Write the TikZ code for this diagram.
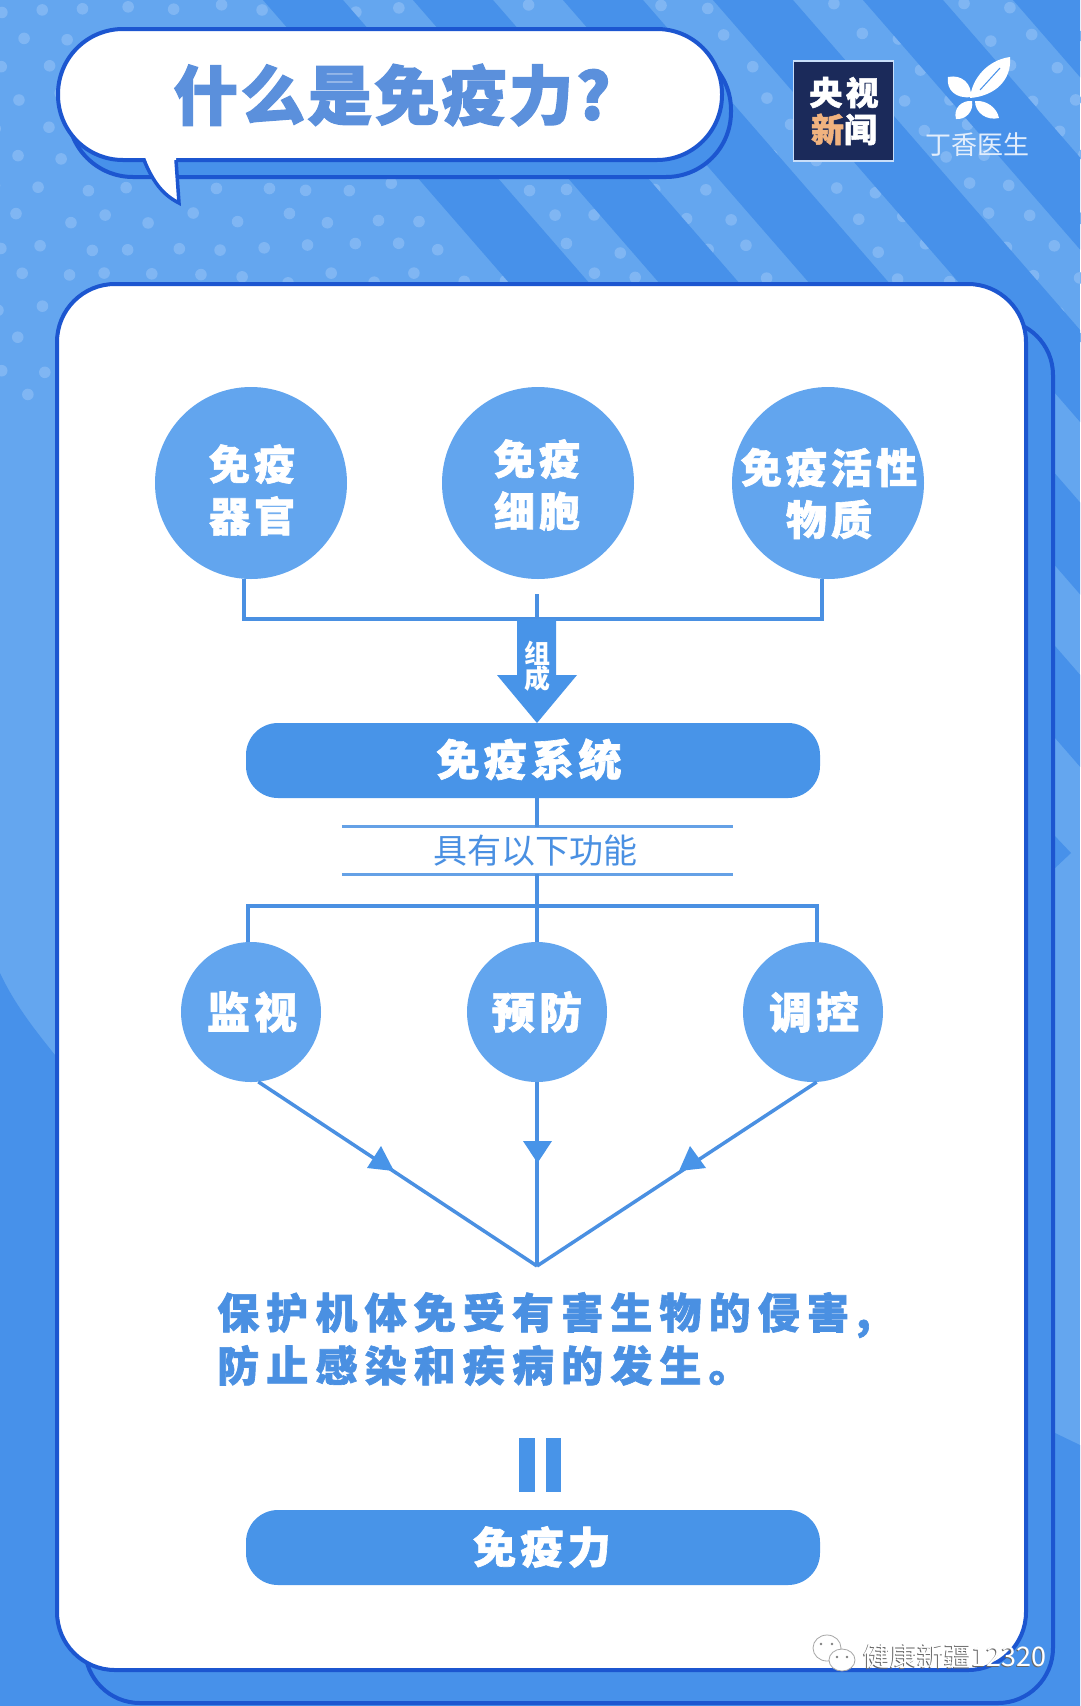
\documentclass[tikz,border=0pt]{standalone}
\usepackage{fontspec}
\usetikzlibrary{calc}
\setmainfont{Noto Sans CJK SC}
\newfontfamily\blackfont[LetterSpace=10,FakeBold=1.5]{Noto Sans CJK SC Black}
\newfontfamily\titlefont[LetterSpace=4,FakeBold=2]{Noto Sans CJK SC Black}
\definecolor{bglight}{HTML}{64A6EF}
\definecolor{bgdark}{HTML}{4791EA}
\definecolor{bgdot}{HTML}{80B6F3}
\definecolor{edgeblue}{HTML}{1C56D0}
\definecolor{pillblue}{HTML}{4894E8}
\definecolor{linkblue}{HTML}{4A90E2}
\definecolor{dotblue}{HTML}{62A5EE}
\definecolor{titleblue}{HTML}{5B90DC}
\definecolor{navybox}{HTML}{1B2A5A}
\definecolor{newsorange}{HTML}{F0B27F}

\begin{document}
\begin{tikzpicture}[x=1pt,y=-1pt]
\useasboundingbox (0,0) rectangle (1080,1706);

\tikzstyle{edge}=[draw=edgeblue,line width=4pt]
\tikzstyle{link}=[draw=linkblue,line width=4pt]
\tikzstyle{thinlink}=[draw=linkblue,line width=3.5pt]
\tikzstyle{bigdot}=[circle,fill=dotblue,inner sep=0pt,minimum size=192pt]
\tikzstyle{smalldot}=[circle,fill=dotblue,inner sep=0pt,minimum size=140pt]
\tikzstyle{pill}=[rectangle,rounded corners=32pt,fill=pillblue,inner sep=0pt,minimum width=574pt,minimum height=75pt]
\tikzstyle{whitetext}=[white,align=center,inner sep=0pt,font=\blackfont\fontsize{41}{52}\selectfont]
\tikzstyle{widetext}=[white,align=center,inner sep=0pt,font=\blackfont\fontsize{43}{52}\selectfont]

   %draw background
    \fill[bglight] (0,0) rectangle (1080,1706);
    \pgfmathsetseed{11}
    \foreach \iy in {0,...,14}
      \foreach \ix in {0,...,25} {
        \pgfmathsetmacro{\dotx}{\ix*44+mod(\iy,2)*22+rnd*12-6}
        \pgfmathsetmacro{\doty}{\iy*30+8+rnd*10-5}
        \pgfmathtruncatemacro{\keep}{\doty<(415-0.07*\dotx)?1:0}
        \ifnum\keep=1
        \fill[bgdot] (\dotx,\doty) circle (5.8pt);
        \fi
      }
    \begin{scope}
    \clip (0,0) rectangle (1080,1706);
    \foreach \s in {263,413,563,713,863,1013}
      \fill[bgdark] (\s,0) -- (\s+80,0) -- (\s+80+696,800) -- (\s+696,800) -- cycle;
    \end{scope}
    \fill[bglight] (900,780) rectangle (1080,1000);
    \fill[bgdark] (1054,835) -- (1071,853) -- (1054,869) -- cycle;
    \fill[bgdark] (0,973) .. controls (15,1005) and (35,1030) .. (55,1055) -- (1055,1433) -- (1080,1445) -- (1080,1706) -- (0,1706) -- cycle;

   %draw title bubble
    \draw[edge,fill=bgdark,rounded corners=65pt] (68,45) rectangle (731,177);
    \draw[edge,fill=white,rounded corners=65pt] (58,29) rectangle (722,160);
    \fill[white] (145,157) .. controls (153,182) and (163,195) .. (179,203) -- (176,157) -- cycle;
    \draw[edge,line width=3.5pt] (144,160) .. controls (153,182) and (163,195) .. (179,203) -- (176,160);
    \node (title) at (392,95) {\titlefont\color{titleblue}\fontsize{64.5}{66}\selectfont 什么是免疫力?};

   %draw logos
    \node (newsbox) [rectangle,fill=navybox,draw=white!70!bgdark,line width=1.5pt,minimum width=100pt,minimum height=100pt] at (843.5,111) {};
    \node (newstext) [white,align=center,inner sep=0pt,font=\blackfont\fontsize{33}{37}\selectfont] at (844,111) {央视\\{\color{newsorange}新}闻};
    \fill[white] (970,98) .. controls (972,78) and (988,60) .. (1010,57) .. controls (1012,80) and (995,96) .. (970,98) -- cycle;
    \draw[bgdark,line width=1pt] (980,90) -- (1000,68);
    \fill[white] (971,97) .. controls (956,99) and (946,90) .. (948,77) .. controls (962,74) and (972,84) .. (971,97) -- cycle;
    \fill[white] (972,101) .. controls (974,112) and (965,120) .. (956,119) .. controls (953,108) and (962,100) .. (972,101) -- cycle;
    \fill[white] (975,101) .. controls (987,100) and (997,108) .. (999,118) .. controls (987,121) and (975,113) .. (975,101) -- cycle;
    \node (brand) [white!85!bgdark,inner sep=0pt,font=\fontsize{26}{26}\selectfont] at (977,145) {丁香医生};

   %draw cards
    \draw[edge,fill=bgdark,rounded corners=55pt] (85,320) rectangle (1053,1703);
    \draw[edge,fill=white,rounded corners=58pt] (57,284) rectangle (1026,1670);

   %draw parts
    \node (organ) [bigdot] at (251,483) {};
    \node (cell) [bigdot] at (538,483) {};
    \node (substance) [bigdot] at (828,483) {};
    \node (organtext) [whitetext] at (252,490) {免疫\\器官};
    \node (celltext) [whitetext] at (537,485) {免疫\\细胞};
    \node (substancetext) [whitetext] at (829,493.5) {免疫活性\\物质};

    \coordinate (busleft) at (244,619);
    \coordinate (busright) at (822,619);
    \coordinate (busmid) at (537,619);
    \coordinate (stub) at (537,594);
    \draw[link] (organ.south -| busleft) -- (busleft) -- (busright) -- (substance.south -| busright);
    \draw[link] (stub) -- (busmid);

   %draw big arrow
    \fill[pillblue] (517,619) -- (556,619) -- (556,675) -- (577,675) -- (537,723) -- (497,675) -- (517,675) -- cycle;
    \node (compose) [white,align=center,inner sep=0pt,font=\fontsize{26}{25}\selectfont\bfseries] at (537,666) {组\\成};

    \node (system) [pill] at (533,760.5) {};
    \node (systemtext) [widetext] at (529,759.5) {免疫系统};

   %draw function label
    \node (funclabel) [minimum width=391pt,minimum height=47pt,inner sep=0pt,linkblue,font=\fontsize{34}{34}\selectfont] at (537.5,850.5) {\hspace*{-4pt}具有以下功能};
    \draw[draw=linkblue!85!white,line width=3pt] (funclabel.north west) -- (funclabel.north east);
    \draw[draw=linkblue!85!white,line width=3pt] (funclabel.south west) -- (funclabel.south east);

    \node (monitor) [smalldot] at (251,1012) {};
    \node (prevent) [smalldot] at (537,1012) {};
    \node (regulate) [smalldot] at (813,1012) {};
    \node (monitortext) [widetext] at (252,1012) {监视};
    \node (preventtext) [widetext] at (537,1012) {预防};
    \node (regulatetext) [widetext] at (814,1012) {调控};

    \coordinate (fanleft) at (248,906);
    \coordinate (fanright) at (817,906);
    \draw[link] (system.south -| busmid) -- (funclabel.north -| busmid);
    \draw[link] (funclabel.south -| busmid) -- (prevent.north -| busmid);
    \draw[link] (monitor.north -| fanleft) -- (fanleft) -- (fanright) -- (regulate.north -| fanright);

   %draw fan in
    \coordinate (apex) at (537,1266);
    \draw[thinlink] (monitor.-84) -- (apex);
    \draw[thinlink] (prevent.south) -- (apex);
    \draw[thinlink] (regulate.-87) -- (apex);
    \fill[pillblue] (523,1141) -- (552,1141) -- (537.5,1163) -- cycle;
    \fill[pillblue] (381,1146) -- (367,1168) -- (394,1171) -- cycle;
    \fill[pillblue] (690,1146) -- (679,1171) -- (706,1168) -- cycle;

    \node (effect) [anchor=west,align=left,inner sep=0pt,linkblue,font=\blackfont\addfontfeature{LetterSpace=17}\fontsize{42}{53}\selectfont] at (217,1339) {保护机体免受有害生物的侵害,\\防止感染和疾病的发生。};

   %draw equals sign
    \fill[pillblue] (519,1438) rectangle (535,1492);
    \fill[pillblue] (546,1438) rectangle (561,1492);

    \node (immunity) [pill] at (533,1547.5) {};
    \node (immunitytext) [widetext] at (542,1547) {免疫力};

   %draw watermark
    \draw[gray!70,fill=white,line width=0.8pt] (827,1648) ellipse (14pt and 13pt);
    \draw[gray!70,fill=white,line width=0.8pt] (842,1660) ellipse (13pt and 11pt);
    \foreach \ex/\ey in {821/1644,832/1644,837/1657,847/1657}
      \fill[gray] (\ex,\ey) circle (1.3pt);
    \node (markshadow) [black!60,anchor=west,inner sep=0pt,font=\fontsize{27}{27}\selectfont] at (862,1657) {健康新疆12320};
    \node (mark) [white,anchor=west,inner sep=0pt,font=\fontsize{27}{27}\selectfont] at (863,1656.4) {健康新疆12320};

\end{tikzpicture}
\end{document}
